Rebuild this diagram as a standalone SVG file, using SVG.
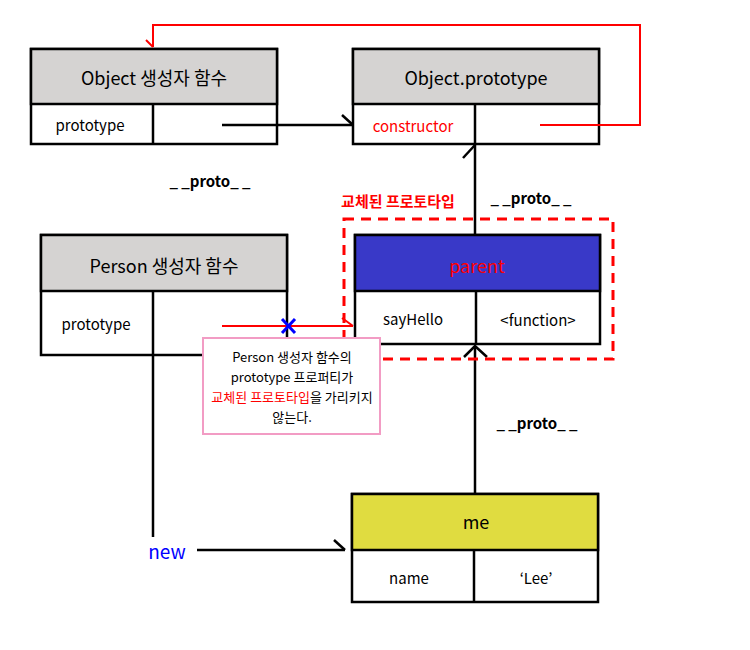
<svg xmlns="http://www.w3.org/2000/svg" width="750" height="650" viewBox="0 0 750 650">
<style>
text{font-family:"Noto Sans CJK KR","Noto Sans",sans-serif;text-anchor:middle;dominant-baseline:central;fill:#000}
.h{font-size:18px}
.c{font-size:15px}
.box{fill:#fff;stroke:#000;stroke-width:2.5}
.hd{fill:#d5d3d2;stroke:#000;stroke-width:2.5}
.ln{fill:none;stroke:#000;stroke-width:2.5}
.rl{fill:none;stroke:#f00;stroke-width:2}
.lb{font-size:15px;font-weight:bold}
</style>
<rect width="750" height="650" fill="#fff"/>
<g id="object-ctor">
<rect class="box" x="31" y="49" width="246" height="95"/>
<rect class="hd" x="31" y="49" width="246" height="55"/>
<line class="ln" x1="153" y1="104" x2="153" y2="144"/>
<text class="h" x="154" y="77">Object 생성자 함수</text>
<text class="c" x="90" y="124">prototype</text>
</g>
<g id="object-prototype">
<rect class="box" x="353" y="49" width="246" height="95"/>
<rect class="hd" x="353" y="49" width="246" height="55"/>
<line class="ln" x1="475" y1="104" x2="475" y2="144"/>
<text class="h" x="476" y="77">Object.prototype</text>
<text class="c" x="413" y="125" style="fill:#f00">constructor</text>
</g>
<g id="person-ctor">
<rect class="box" x="41" y="235" width="246" height="120"/>
<rect class="hd" x="41" y="235" width="246" height="56"/>
<line class="ln" x1="153" y1="291" x2="153" y2="355"/>
<text class="h" x="164" y="265">Person 생성자 함수</text>
<text class="c" x="96" y="323">prototype</text>
</g>
<g id="parent">
<rect class="box" x="355" y="235" width="245" height="109"/>
<rect x="355" y="235" width="245" height="56" fill="#3939c8" stroke="#000" stroke-width="2.5"/>
<line class="ln" x1="476" y1="291" x2="476" y2="344"/>
<text class="h" x="477" y="265" style="fill:#f00">parent</text>
<text class="c" x="413" y="318">sayHello</text>
<text class="c" x="538" y="319">&lt;function&gt;</text>
</g>
<g id="me">
<rect class="box" x="352" y="494" width="246" height="108"/>
<rect x="352" y="494" width="246" height="56" fill="#e0dc40" stroke="#000" stroke-width="2.5"/>
<line class="ln" x1="474" y1="550" x2="474" y2="602"/>
<text class="h" x="476" y="521">me</text>
<text class="c" x="409" y="577">name</text>
<text class="c" x="536" y="577">‘Lee’</text>
</g>
<g id="connectors">
<polyline class="rl" points="540,125 640,125 640,25 153,25 153,47"/>
<line class="rl" x1="146" y1="40" x2="153" y2="47"/>
<line class="ln" x1="222" y1="125" x2="353" y2="125"/>
<line class="ln" x1="342" y1="115" x2="353" y2="125"/>
<line class="ln" x1="475" y1="145" x2="475" y2="235"/>
<line class="ln" x1="463" y1="158" x2="475" y2="145"/>
<line class="ln" x1="475" y1="346" x2="475" y2="494"/>
<polyline class="ln" points="464,357 475,346 487,357"/>
<line class="ln" x1="153" y1="355" x2="153" y2="537"/>
<line class="ln" x1="197" y1="550" x2="345" y2="550"/>
<line class="ln" x1="334" y1="540" x2="345" y2="550"/>
<line class="rl" x1="222" y1="326" x2="353" y2="326"/>
<line class="rl" x1="342" y1="318" x2="353" y2="326"/>
</g>
<g id="replaced-frame">
<rect x="344" y="219" width="269" height="140" fill="none" stroke="#f00" stroke-width="3" stroke-dasharray="10,7"/>
<text x="398" y="200" class="lb" style="fill:#f00">교체된 프로토타입</text>
</g>
<g id="labels">
<text class="lb" x="210" y="180">_ _proto_ _</text>
<text class="lb" x="531" y="197">_ _proto_ _</text>
<text class="lb" x="537" y="422">_ _proto_ _</text>
<text x="167" y="550" style="font-size:19px;fill:#00f">new</text>
<g stroke="#00f" stroke-width="3"><line x1="282" y1="319" x2="295" y2="333"/><line x1="295" y1="319" x2="282" y2="333"/></g>
</g>
<g id="callout">
<rect x="203" y="338" width="177" height="96" fill="#fff" stroke="#f29cc4" stroke-width="2"/>
<text x="292" y="356" style="font-size:13px">Person 생성자 함수의</text>
<text x="292" y="376" style="font-size:13px">prototype 프로퍼티가</text>
<text x="292" y="396" style="font-size:13px"><tspan style="fill:#f00">교체된 프로토타입</tspan>을 가리키지</text>
<text x="292" y="416" style="font-size:13px">않는다.</text>
</g>
</svg>
